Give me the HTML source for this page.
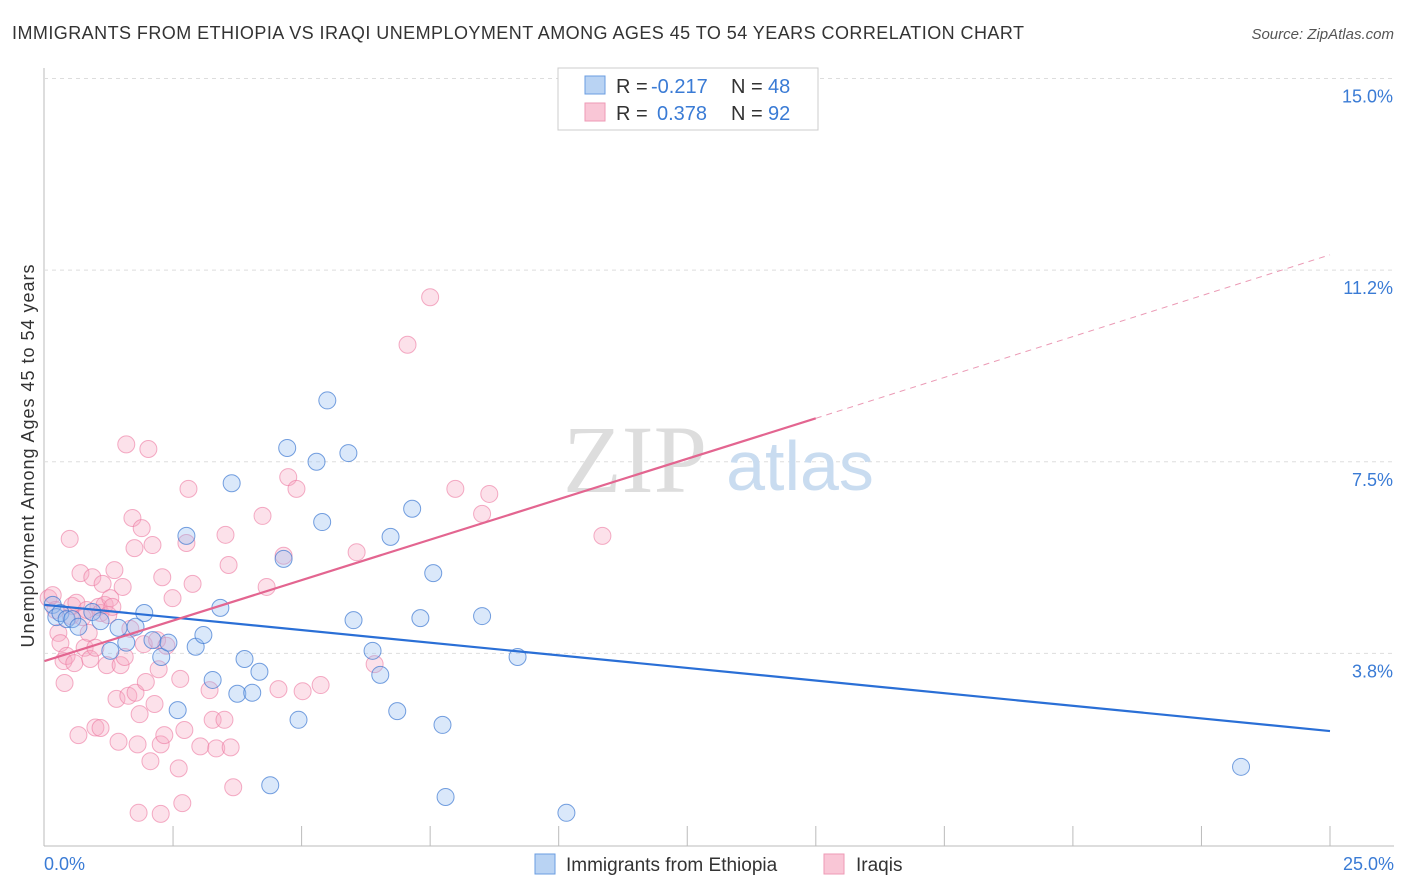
<!DOCTYPE html>
<html><head><meta charset="utf-8"><style>
body{margin:0;background:#fff;font-family:"Liberation Sans",sans-serif;}
svg{display:block}
</style></head><body>
<svg width="1406" height="892" id="chart">
<text x="12" y="39" font-size="18" fill="#333" textLength="1012" lengthAdjust="spacing">IMMIGRANTS FROM ETHIOPIA VS IRAQI UNEMPLOYMENT AMONG AGES 45 TO 54 YEARS CORRELATION CHART</text>
<text x="1394" y="39" font-size="15" fill="#555" font-style="italic" text-anchor="end">Source: ZipAtlas.com</text>
<g id="grid"></g>
<text x="635" y="492" font-size="96" fill="#ddd" font-family="Liberation Serif,serif" text-anchor="middle">ZIP</text>
<text x="800" y="490" font-size="70" fill="#c9dcf0" text-anchor="middle">atlas</text>
<g id="pts"></g>
<g id="lines"></g>
<text x="34" y="456" font-size="18" fill="#333" text-anchor="middle" textLength="383" lengthAdjust="spacing" transform="rotate(-90 34 456)">Unemployment Among Ages 45 to 54 years</text>
<text x="44" y="870" font-size="18" fill="#3a7bd5">0.0%</text>
<text x="1394" y="870" font-size="18" fill="#3a7bd5" text-anchor="end">25.0%</text>
<g>
<rect x="558" y="68" width="260" height="62" fill="#fff" stroke="#ccc"/>
<rect x="585" y="76" width="20" height="18" fill="#b9d3f3" stroke="#6a9de0"/>
<rect x="585" y="103" width="20" height="18" fill="#f9c6d6" stroke="#ee9ab5"/>
<text x="616" y="93" font-size="20" fill="#333">R = <tspan fill="#3a7bd5" x="651">-0.217</tspan><tspan x="731">N = </tspan><tspan fill="#3a7bd5" x="768">48</tspan></text>
<text x="616" y="120" font-size="20" fill="#333">R = <tspan fill="#3a7bd5" x="657">0.378</tspan><tspan x="731">N = </tspan><tspan fill="#3a7bd5" x="768">92</tspan></text>
</g>
<g>
<rect x="535" y="854" width="20" height="20" fill="#b9d3f3" stroke="#6a9de0"/>
<text x="566" y="871" font-size="19" fill="#333">Immigrants from Ethiopia</text>
<rect x="824" y="854" width="20" height="20" fill="#f9c6d6" stroke="#ee9ab5"/>
<text x="856" y="871" font-size="19" fill="#333">Iraqis</text>
</g>
</svg>
<script>
const yTicks=[3.75,7.5,11.25,15];
const yTickLabels=["3.8%","7.5%","11.2%","15.0%"];
const xTicks=[2.5,5,7.5,10,12.5,15,17.5,20,22.5,25];
const blueX=[0.16,0.23,0.31,0.43,0.54,0.66,0.93,1.09,1.28,1.44,1.59,1.77,1.94,2.1,2.27,2.41,2.59,2.76,2.94,3.09,3.27,3.42,3.64,3.75,3.89,4.04,4.18,4.39,4.65,4.72,4.94,5.29,5.4,5.5,5.91,6.01,6.38,6.53,6.86,6.73,7.15,7.31,7.56,7.74,7.8,8.51,9.2,10.15,23.27];
const blueY=[4.7,4.46,4.54,4.42,4.42,4.27,4.56,4.38,3.8,4.25,3.96,4.27,4.54,4.01,3.68,3.96,2.64,6.05,3.88,4.11,3.23,4.64,7.08,2.96,3.64,2.98,3.39,1.17,5.6,7.77,2.45,7.5,6.32,8.7,7.67,4.4,3.8,3.33,2.62,6.03,6.58,4.44,5.32,2.35,0.94,4.48,3.68,0.63,1.53];
const pinkX=[0.08,0.16,0.21,0.27,0.31,0.37,0.39,0.43,0.49,0.51,0.54,0.58,0.62,0.7,0.74,0.78,0.82,0.86,0.89,0.93,0.99,1.05,1.09,1.13,1.17,1.21,1.24,1.28,1.32,1.36,1.4,1.44,1.48,1.52,1.56,1.59,1.63,1.67,1.71,1.75,1.77,1.81,1.85,1.89,1.93,1.97,2.02,2.06,2.1,2.14,2.19,2.22,2.26,2.29,2.33,2.37,2.49,2.61,2.64,2.68,2.72,2.76,2.8,2.88,3.03,3.21,3.27,3.34,3.5,3.52,3.58,3.62,3.67,4.24,4.32,4.55,4.65,4.74,4.9,5.02,5.37,6.07,6.42,7.06,7.5,7.99,8.51,8.65,10.85,1.83,0.66,0.99,1.09,2.26];
const pinkY=[4.83,4.89,4.6,4.15,3.95,3.6,3.17,3.7,5.99,4.48,4.68,3.56,4.74,5.32,4.46,3.86,4.6,4.15,3.64,5.24,3.86,4.66,4.54,5.11,4.7,3.52,4.5,4.83,4.66,5.38,2.86,2.02,3.52,5.05,3.68,7.84,2.92,4.23,6.4,5.81,2.98,1.97,2.56,6.2,3.93,3.19,7.75,1.64,5.87,2.76,4.01,3.44,1.97,5.24,2.15,3.9,4.83,1.5,3.25,0.82,2.25,5.91,6.97,5.11,1.93,3.03,2.45,1.89,2.45,6.07,5.48,1.91,1.13,6.44,5.05,3.05,5.66,7.2,6.97,3.01,3.13,5.73,3.54,9.79,10.72,6.97,6.48,6.87,6.05,0.63,2.15,2.3,2.29,0.61];
const blueLine=[[0,4.7],[25,2.23]];
const pinkLine=[[0,3.6],[15,8.35],[25,11.55]];
const sx=v=>44.5+v*51.42, sy=v=>845-v*51.1;
const NS="http://www.w3.org/2000/svg";
function mk(t,a,p){const e=document.createElementNS(NS,t);for(const k in a)e.setAttribute(k,a[k]);p.appendChild(e);return e;}
const g=document.getElementById('grid');
const ax=mk('line',{x1:44,y1:68,x2:44,y2:846,stroke:'#bbb'},g);


const bx=mk('line',{x1:44,y1:846,x2:1394,y2:846,stroke:'#bbb'},g);


yTicks.forEach((v,i)=>{
 const l=mk('line',{x1:44,y1:sy(v),x2:1394,y2:sy(v),stroke:'#ddd','stroke-dasharray':'4,4'},g);
 
 
 const t=mk('text',{x:1393,y:sy(v)+24,'font-size':18,fill:'#3a7bd5','text-anchor':'end'},g);
 t.textContent=yTickLabels[i];
 
 
});
xTicks.forEach(v=>{
 const l=mk('line',{x1:sx(v),y1:826,x2:sx(v),y2:846,stroke:'#bbb'},g);
 
 
});
const P=document.getElementById('pts');
pinkX.forEach((x,i)=>{
 const c=mk('circle',{cx:sx(x),cy:sy(pinkY[i]),r:8.5,fill:'rgba(246,170,195,0.35)',stroke:'rgba(236,120,160,0.6)','stroke-width':1},P);
 
 
});
blueX.forEach((x,i)=>{
 const c=mk('circle',{cx:sx(x),cy:sy(blueY[i]),r:8.5,fill:'rgba(150,190,240,0.35)',stroke:'rgba(60,120,210,0.7)','stroke-width':1},P);
 
 
});
const L=document.getElementById('lines');
const b=mk('line',{x1:sx(blueLine[0][0]),y1:sy(blueLine[0][1]),x2:sx(blueLine[1][0]),y2:sy(blueLine[1][1]),stroke:'#2a6fd6','stroke-width':2.2},L);


const p1=mk('line',{x1:sx(pinkLine[0][0]),y1:sy(pinkLine[0][1]),x2:sx(pinkLine[1][0]),y2:sy(pinkLine[1][1]),stroke:'#e36590','stroke-width':2.2},L);


const p2=mk('line',{x1:sx(pinkLine[1][0]),y1:sy(pinkLine[1][1]),x2:sx(pinkLine[2][0]),y2:sy(pinkLine[2][1]),stroke:'#eb9ab5','stroke-width':1,'stroke-dasharray':'6,5'},L);


</script>
</body></html>
